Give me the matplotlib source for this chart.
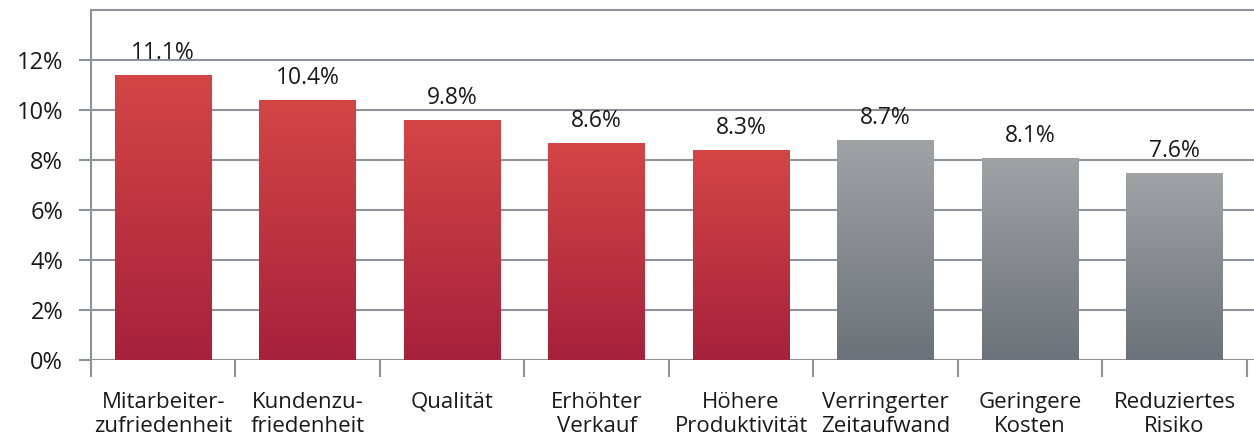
import matplotlib.pyplot as plt
import numpy as np
from matplotlib.colors import LinearSegmentedColormap

# Werte aus der Grafik (Balkenhoehe) und die angezeigten Beschriftungen
kategorien = ['Mitarbeiter-\nzufriedenheit', 'Kundenzu-\nfriedenheit', 'Qualität',
              'Erhöhter\nVerkauf', 'Höhere\nProduktivität', 'Verringerter\nZeitaufwand',
              'Geringere\nKosten', 'Reduziertes\nRisiko']
werte = [11.4, 10.4, 9.6, 8.7, 8.4, 8.8, 8.1, 7.5]
werte_text = ['11.1%', '10.4%', '9.8%', '8.6%', '8.3%', '8.7%', '8.1%', '7.6%']
gruppe = ['rot', 'rot', 'rot', 'rot', 'rot', 'grau', 'grau', 'grau']
y_ticks = [0, 2, 4, 6, 8, 10, 12]

plt.rcParams['font.family'] = ['Open Sans', 'DejaVu Sans']
grid_col = '#8c939b'
text_col = '#1a1a1a'

verlauf = {
    'rot': LinearSegmentedColormap.from_list('rot', ['#a6213c', '#d44545']),
    'grau': LinearSegmentedColormap.from_list('grau', ['#6c7279', '#a0a3a6']),
}

fig = plt.figure(figsize=(12.54, 4.44), dpi=100)
ax = fig.add_axes([91/1254, 1-360/444, 1-91/1254, 350/444])

x = np.arange(len(kategorien))
bars = ax.bar(x, werte, width=0.67, color='none', zorder=3)

# Farbverlauf in jeden Balken
for b, g in zip(bars, gruppe):
    x0, y0 = b.get_x(), b.get_y()
    w, h = b.get_width(), b.get_height()
    grad = np.linspace(0, 1, 256).reshape(-1, 1)
    im = ax.imshow(grad, cmap=verlauf[g], origin='lower', aspect='auto',
                   extent=[x0, x0 + w, y0, y0 + h], zorder=3)
    im.set_clip_path(b)

for xi, v, t in zip(x, werte, werte_text):
    ax.annotate(t, (xi, v), xytext=(0, 7), textcoords='offset points',
                ha='center', va='bottom', fontsize=16.5, color=text_col)

ax.set_xlim(-0.5, 7.55)
ax.set_ylim(0, 14)
ax.set_yticks(y_ticks)
ax.set_yticklabels(['%d%%' % v for v in y_ticks], fontsize=17, color=text_col)
ax.yaxis.grid(True, color=grid_col, lw=1.5, zorder=1)
ax.axhline(14, color=grid_col, lw=1.5, zorder=1, clip_on=False)
ax.tick_params(axis='y', length=9, width=1.5, color=grid_col, pad=11)

ax.set_xticks(x)
ax.set_xticklabels(kategorien, fontsize=16, color=text_col, linespacing=1.2)
ax.set_xticks(np.arange(-0.5, 8, 1), minor=True)
ax.tick_params(axis='x', which='major', length=0, pad=23)
ax.tick_params(axis='x', which='minor', length=12, width=1.5, color=grid_col, direction='out')

for s in ['top', 'right', 'bottom']:
    ax.spines[s].set_visible(False)
ax.spines['left'].set_color(grid_col)
ax.spines['left'].set_linewidth(1.5)

fig.savefig('out.png', dpi=100)
